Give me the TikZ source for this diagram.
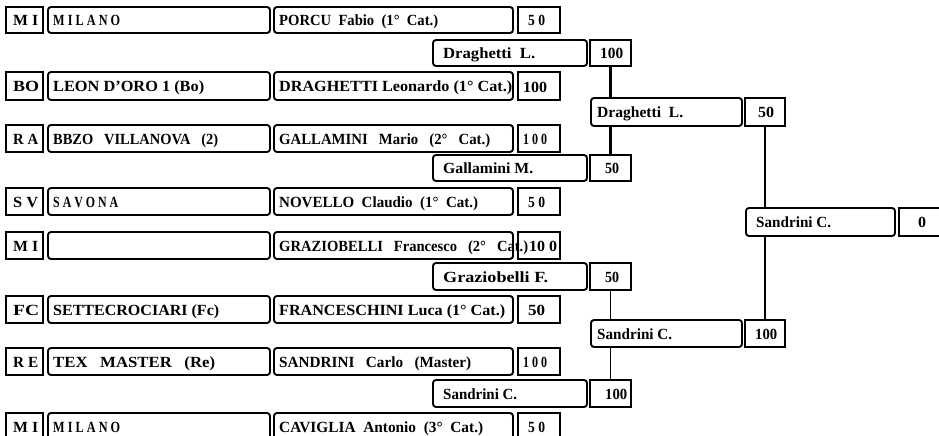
\documentclass[tikz,border=0pt]{standalone}
\usepackage{fontspec}
\setmainfont{Liberation Serif}
\usepackage{graphicx}
\tikzset{
  frame/.style={draw, line width=1.9pt, fill=white, inner sep=0pt},
  rbox/.style={frame, rounded corners=3pt},
  sbox/.style={frame},
  txt/.style={anchor=base west, inner sep=0pt, font=\fontsize{15.5}{16}\selectfont\bfseries},
  thicklink/.style={line width=2.8pt},
  thinlink/.style={line width=1.4pt},
}
% box: style, x1, y1, x2, y2, name
\newcommand\bx[6]{\node[#1, minimum width={(#4-#2)*1pt}, minimum height={(#5-#3)*1pt}] (#6) at ({(#2+#4)/2},{(#3+#5)/2}) {};}
% text: name, x start, width, baseline y, text
\newcommand\tx[5]{\node[txt] (#1) at (#2,#4) {\resizebox{#3pt}{\height}{#5}};}
\begin{document}
\begin{tikzpicture}[x=1pt,y=-1pt]
\useasboundingbox (0,0) rectangle (939,436);
\clip (0,0) rectangle (939,436);

% ---- first column rows ----
% row 1
\bx{sbox}{6}{7}{43}{33}{r1}
\bx{rbox}{48}{7}{270}{33}{n1}
\bx{rbox}{274}{7}{513}{33}{p1}
\bx{sbox}{518}{7}{560}{33}{s1}
\tx{tr1}{13}{25}{25.5}{M I}
\tx{tn1}{53}{67}{25.5}{M I L A N O}
\tx{tp1}{279}{159}{25.5}{PORCU~~Fabio~~(1°~~Cat.)}
\tx{ts1}{528}{17}{25.5}{5 0}
% row 2
\bx{sbox}{6}{72}{43}{100}{r2}
\bx{rbox}{48}{72}{270}{100}{n2}
\bx{rbox}{274}{72}{513}{100}{p2}
\bx{sbox}{518}{72}{560}{100}{s2}
\tx{tr2}{13}{26}{92}{BO}
\tx{tn2}{53}{151}{92}{LEON D’ORO 1 (Bo)}
\tx{tp2}{279}{233}{92}{DRAGHETTI Leonardo (1° Cat.)}
\tx{ts2}{523}{24}{92}{100}
% row 3
\bx{sbox}{6}{125}{43}{152}{r3}
\bx{rbox}{48}{125}{270}{152}{n3}
\bx{rbox}{274}{125}{513}{152}{p3}
\bx{sbox}{518}{125}{560}{152}{s3}
\tx{tr3}{13}{25}{144}{R A}
\tx{tn3}{53}{165}{144}{BBZO~~~VILLANOVA~~~(2)}
\tx{tp3}{279}{211}{144}{GALLAMINI~~~Mario~~~(2°~~~Cat.)}
\tx{ts3}{523}{24}{144}{1 0 0}
% row 4
\bx{sbox}{6}{188}{43}{215}{r4}
\bx{rbox}{48}{188}{270}{215}{n4}
\bx{rbox}{274}{188}{513}{215}{p4}
\bx{sbox}{518}{188}{560}{215}{s4}
\tx{tr4}{13}{25}{207}{S V}
\tx{tn4}{53}{65}{207}{S A V O N A}
\tx{tp4}{279}{199}{207}{NOVELLO~~Claudio~~(1°~~Cat.)}
\tx{ts4}{528}{17}{207}{5 0}
% row 5
\bx{sbox}{6}{232}{43}{259}{r5}
\bx{rbox}{48}{232}{270}{259}{n5}
\bx{rbox}{274}{232}{513}{259}{p5}
\bx{sbox}{518}{232}{560}{259}{s5}
\tx{tr5}{13}{25}{251}{M I}
\tx{tp5}{279}{249}{251}{GRAZIOBELLI~~~Francesco~~~(2°~~~Cat.)}
\tx{ts5}{529}{28}{251}{10 0}
% row 6
\bx{sbox}{6}{296}{43}{323}{r6}
\bx{rbox}{48}{296}{270}{323}{n6}
\bx{rbox}{274}{296}{513}{323}{p6}
\bx{sbox}{518}{296}{560}{323}{s6}
\tx{tr6}{13}{26}{315}{FC}
\tx{tn6}{53}{166}{315}{SETTECROCIARI (Fc)}
\tx{tp6}{279}{226}{315}{FRANCESCHINI Luca (1° Cat.)}
\tx{ts6}{528}{17}{315}{50}
% row 7
\bx{sbox}{6}{348}{43}{375}{r7}
\bx{rbox}{48}{348}{270}{375}{n7}
\bx{rbox}{274}{348}{513}{375}{p7}
\bx{sbox}{518}{348}{560}{375}{s7}
\tx{tr7}{13}{25}{367}{R E}
\tx{tn7}{53}{162}{367}{TEX~~~MASTER~~~(Re)}
\tx{tp7}{279}{192}{367}{SANDRINI~~~Carlo~~~(Master)}
\tx{ts7}{523}{24}{367}{1 0 0}
% row 8
\bx{sbox}{6}{413}{43}{440}{r8}
\bx{rbox}{48}{413}{270}{440}{n8}
\bx{rbox}{274}{413}{513}{440}{p8}
\bx{sbox}{518}{413}{560}{440}{s8}
\tx{tr8}{13}{25}{432}{M I}
\tx{tn8}{53}{67}{432}{M I L A N O}
\tx{tp8}{279}{204}{432}{CAVIGLIA~~Antonio~~(3°~~Cat.)}
\tx{ts8}{528}{17}{432}{5 0}

% ---- second column ----
\bx{rbox}{433}{40}{587}{66}{w1}
\bx{sbox}{590}{40}{631}{66}{ws1}
\tx{tw1}{443}{92}{58.5}{Draghetti~~L.}
\tx{tws1}{600}{23}{58.5}{100}
\bx{rbox}{433}{155}{587}{181}{w2}
\bx{sbox}{590}{155}{631}{181}{ws2}
\tx{tw2}{443}{90}{173.5}{Gallamini M.}
\tx{tws2}{605}{14}{173.5}{50}
\bx{rbox}{433}{263}{587}{290}{w3}
\bx{sbox}{590}{263}{631}{290}{ws3}
\tx{tw3}{443}{105}{282}{Graziobelli F.}
\tx{tws3}{605}{14}{282}{50}
\bx{rbox}{433}{380}{587}{407}{w4}
\bx{sbox}{590}{380}{631}{407}{ws4}
\tx{tw4}{443}{74}{399}{Sandrini C.}
\tx{tws4}{605}{22}{399}{100}

% ---- third column ----
\bx{rbox}{591}{98}{742}{126}{v1}
\bx{sbox}{745}{98}{785}{126}{vs1}
\tx{tv1}{597}{86}{117.5}{Draghetti~~L.}
\tx{tvs1}{758}{16}{117.5}{50}
\bx{rbox}{591}{320}{742}{347}{v2}
\bx{sbox}{745}{320}{785}{347}{vs2}
\tx{tv2}{597}{75}{339}{Sandrini C.}
\tx{tvs2}{755}{22}{339}{100}

% ---- final ----
\bx{rbox}{746}{208}{895}{236}{f1}
\bx{sbox}{899}{208}{945}{236}{fs1}
\tx{tf1}{756}{75}{227.5}{Sandrini C.}
\tx{tfs1}{918}{8}{227.5}{0}

% ---- connectors ----
\draw[thicklink] (ws1.south) -- (ws1.south |- v1.north);
\draw[thicklink] (ws2.north |- v1.south) -- (ws2.north);
\draw[thinlink] (ws3.south) -- (ws3.south |- v2.north);
\draw[thinlink] (ws4.north |- v2.south) -- (ws4.north);
\draw[thinlink] (vs1.south) -- (vs1.south |- f1.north);
\draw[thinlink] (vs1.south |- f1.south) -- (vs2.north);
\end{tikzpicture}
\end{document}
